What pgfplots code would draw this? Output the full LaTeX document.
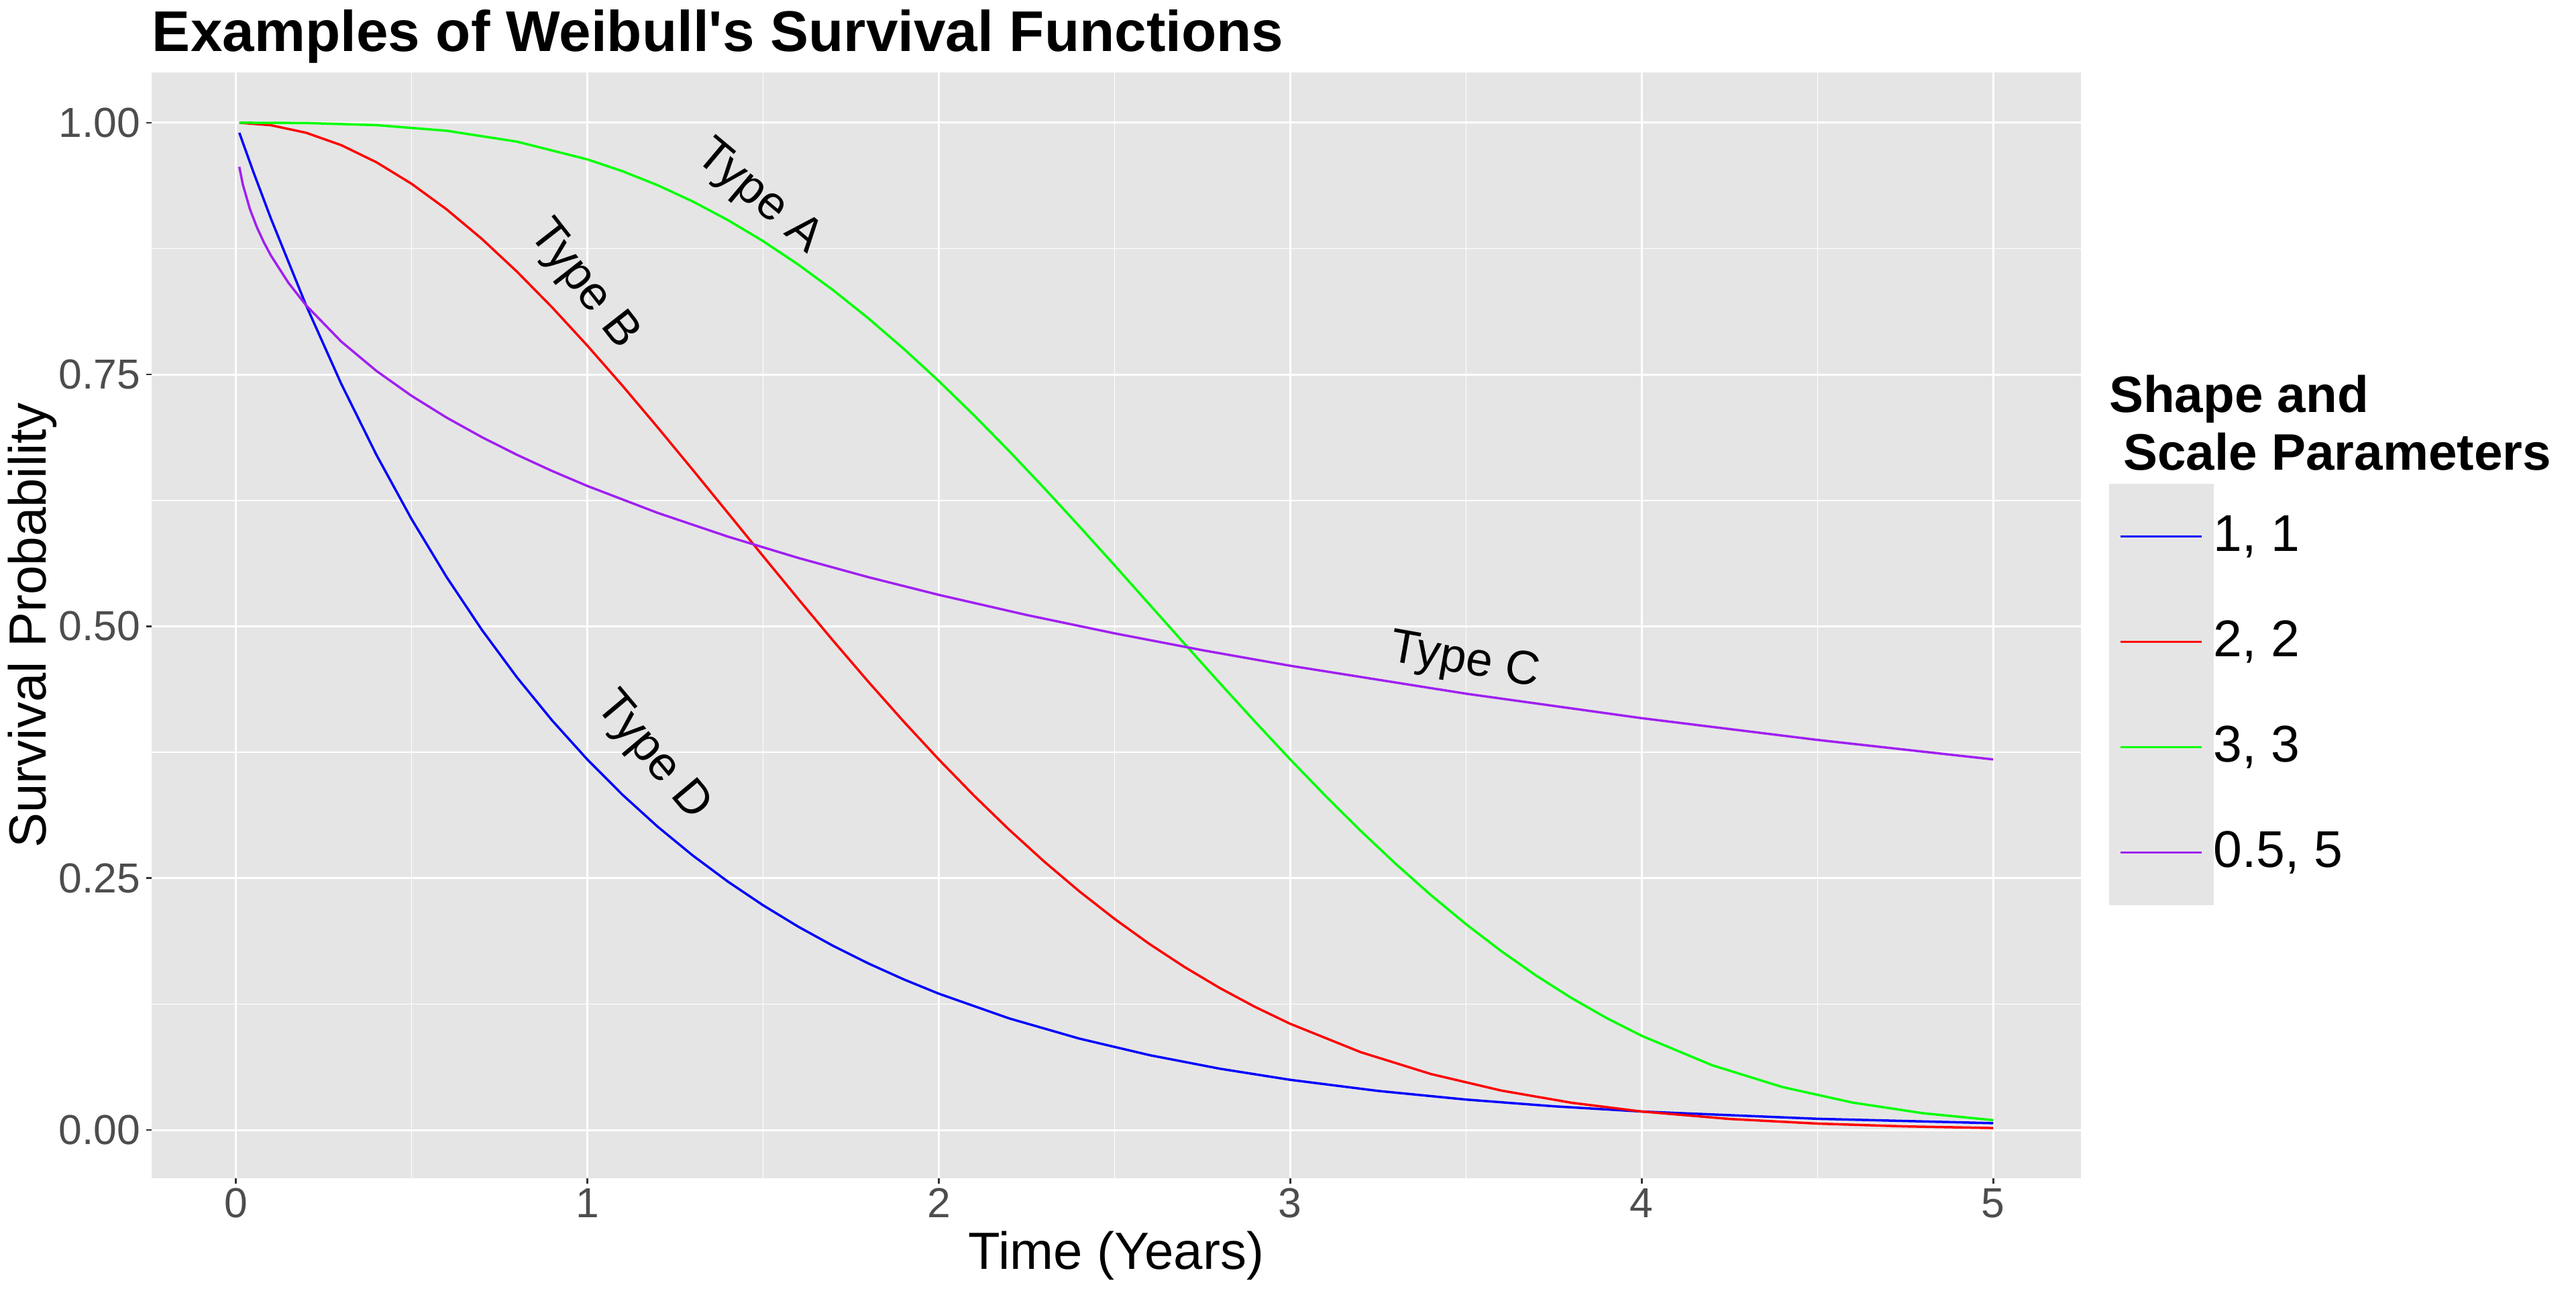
\documentclass[border=0pt]{standalone}
\usepackage{fontspec}
\setmainfont{Liberation Sans}
\usepackage{pgfplots}
\pgfplotsset{compat=1.18}
\definecolor{panelgray}{HTML}{E5E5E5}
\definecolor{ticklab}{HTML}{4D4D4D}
\definecolor{tickcol}{HTML}{333333}
\definecolor{cblue}{HTML}{0000FF}
\definecolor{cred}{HTML}{FF0000}
\definecolor{cgreen}{HTML}{00FF00}
\definecolor{cpurple}{HTML}{A020F0}

\pgfplotstableread{
t s
0.01 0.990050
0.05 0.951229
0.1 0.904837
0.2 0.818731
0.3 0.740818
0.4 0.670320
0.5 0.606531
0.6 0.548812
0.7 0.496585
0.8 0.449329
0.9 0.406570
1.0 0.367879
1.1 0.332871
1.2 0.301194
1.3 0.272532
1.4 0.246597
1.5 0.223130
1.6 0.201897
1.7 0.182684
1.8 0.165299
1.9 0.149569
2.0 0.135335
2.2 0.110803
2.4 0.090718
2.6 0.074274
2.8 0.060810
3.0 0.049787
3.25 0.038774
3.5 0.030197
3.75 0.023518
4.0 0.018316
4.5 0.011109
5.0 0.006738
}\blueT

\pgfplotstableread{
t s
0.01 0.999975
0.1 0.997503
0.2 0.990050
0.3 0.977751
0.4 0.960789
0.5 0.939413
0.6 0.913931
0.7 0.884706
0.8 0.852144
0.9 0.816686
1.0 0.778801
1.1 0.738968
1.2 0.697676
1.3 0.655406
1.4 0.612626
1.5 0.569783
1.6 0.527292
1.7 0.485537
1.8 0.444858
1.9 0.405555
2.0 0.367879
2.1 0.332040
2.2 0.298197
2.3 0.266466
2.4 0.236928
2.5 0.209611
2.6 0.184520
2.7 0.161621
2.8 0.140858
2.9 0.122150
3.0 0.105399
3.2 0.077305
3.4 0.055576
3.6 0.039164
3.8 0.027052
4.0 0.018316
4.25 0.010937
4.5 0.006330
4.75 0.003551
5.0 0.001930
}\redT

\pgfplotstableread{
t s
0.01 1.000000
0.2 0.999704
0.4 0.997633
0.6 0.992032
0.8 0.981216
1.0 0.963640
1.1 0.951899
1.2 0.938005
1.3 0.921853
1.4 0.903363
1.5 0.882497
1.6 0.859242
1.7 0.833632
1.8 0.805735
1.9 0.775663
2.0 0.743567
2.1 0.709638
2.2 0.674105
2.3 0.637226
2.4 0.599296
2.5 0.560625
2.6 0.521543
2.7 0.482391
2.8 0.443509
2.9 0.405232
3.0 0.367879
3.1 0.331751
3.2 0.297117
3.3 0.264213
3.4 0.233236
3.5 0.204342
3.6 0.177640
3.7 0.153196
3.8 0.131034
3.9 0.111136
4.0 0.093446
4.2 0.064313
4.4 0.042640
4.6 0.027187
4.8 0.016639
5.0 0.009758
}\greenT

\pgfplotstableread{
t s
0.01 0.956264
0.02 0.938712
0.04 0.914441
0.06 0.896241
0.08 0.881182
0.1 0.868124
0.15 0.840965
0.2 0.818731
0.3 0.782745
0.4 0.753638
0.5 0.728893
0.6 0.707222
0.7 0.687863
0.8 0.670320
0.9 0.654251
1.0 0.639407
1.2 0.612689
1.4 0.589106
1.6 0.567971
1.8 0.548812
2.0 0.531286
2.25 0.511289
2.5 0.493068
2.75 0.476342
3.0 0.460889
3.5 0.433155
4.0 0.408842
4.5 0.387251
5.0 0.367879
}\purpleT

\begin{document}
\begin{tikzpicture}
\path[use as bounding box] (0,0) rectangle (768pt,384pt);
\begin{axis}[
  at={(45.2pt,32.8pt)}, anchor=south west,
  scale only axis, width=575.2pt, height=329.6pt,
  xmin=-0.2395, xmax=5.2495, ymin=-0.04797, ymax=1.0499,
  clip mode=individual,
  axis background/.style={fill=panelgray},
  axis line style={draw=none},
  xtick={0,1,2,3,4,5}, xticklabels={0,1,2,3,4,5},
  ytick={0,0.25,0.5,0.75,1}, yticklabels={0.00,0.25,0.50,0.75,1.00},
  minor xtick={0.5,1.5,2.5,3.5,4.5},
  minor ytick={0.125,0.375,0.625,0.875},
  grid=both,
  major grid style={white, line width=0.6pt},
  minor grid style={white, line width=0.3pt},
  tick align=outside, tick pos=left,
  major tick length=1.6pt, minor tick length=0pt,
  major tick style={tickcol, line width=0.5pt},
  /pgf/number format/assume math mode=true,
  ticklabel style={font=\fontsize{12.5}{15}\selectfont, text=ticklab, inner sep=0pt},
  xticklabel style={yshift=-1.2pt},
  yticklabel style={xshift=-1.6pt},
  every axis title shift=0pt,
  title={Examples of Weibull\textquotesingle s Survival Functions},
  title style={at={(axis description cs:0,1.01881)}, anchor=base west, font=\bfseries\fontsize{17.1}{20}\selectfont, inner sep=0pt},
  xlabel={Time (Years)},
  xlabel style={at={(axis description cs:0.5,-0.08192)}, anchor=base, font=\fontsize{15.6}{18}\selectfont, inner sep=0pt},
  ylabel={Survival Probability},
  ylabel style={at={(axis description cs:-0.05459,0.5)}, rotate=0, anchor=base, font=\fontsize{15.6}{18}\selectfont, inner sep=0pt},
  legend style={at={(axis description cs:1.0146,0.6280)}, anchor=north west,
    draw=none, fill=none, inner sep=0pt, outer sep=0pt,
    row sep=0pt, column sep=0pt,
    font=\fontsize{15.4}{18}\selectfont,
    nodes={inner sep=0pt, outer sep=0pt, text depth={}}},
  legend cell align=left,
  legend image code/.code={
    \fill[panelgray] (0pt,-15.35pt) rectangle (30.4pt,15.35pt);
    \draw[#1] (3pt,0pt) -- (27.2pt,0pt);
  },
  every axis plot/.append style={line width=0.7pt},
]
\addplot[cblue] table[x=t,y=s] {\blueT};
\addlegendentry{1, 1}
\addplot[cred] table[x=t,y=s] {\redT};
\addlegendentry{2, 2}
\addplot[cgreen] table[x=t,y=s] {\greenT};
\addlegendentry{3, 3}
\addplot[cpurple] table[x=t,y=s] {\purpleT};
\addlegendentry{0.5, 5}

\node[rotate=-40, font=\fontsize{14.2}{17}\selectfont, inner sep=0pt, text height=10.17pt, text depth=0pt] at (axis cs:1.496,0.930) {Type A};
\node[rotate=-52, font=\fontsize{14.2}{17}\selectfont, inner sep=0pt, text height=10.17pt, text depth=0pt] at (axis cs:1.000,0.842) {Type B};
\node[rotate=-10, font=\fontsize{14.2}{17}\selectfont, inner sep=0pt, text height=10.17pt, text depth=0pt] at (axis cs:3.499,0.470) {Type C};
\node[rotate=-50, font=\fontsize{14.2}{17}\selectfont, inner sep=0pt, text height=10.17pt, text depth=0pt] at (axis cs:1.197,0.374) {Type D};

\node[anchor=base west, inner sep=0pt, font=\bfseries\fontsize{15.3}{18}\selectfont] at (axis description cs:1.01426,0.69296) {Shape and};
\node[anchor=base west, inner sep=0pt, font=\bfseries\fontsize{15.3}{18}\selectfont] at (axis description cs:1.01426,0.64078) {\hspace*{0.278em}Scale Parameters};
\end{axis}
\end{tikzpicture}
\end{document}
